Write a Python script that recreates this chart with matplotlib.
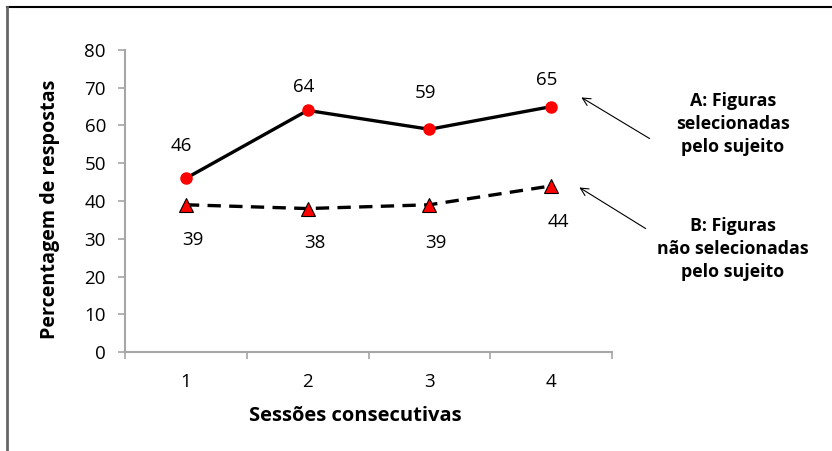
import matplotlib
matplotlib.use("Agg")
import matplotlib.pyplot as plt
from matplotlib.lines import Line2D

sessions = [1, 2, 3, 4]
selected = [46, 64, 59, 65]
not_selected = [39, 38, 39, 44]
y_ticks = [0, 10, 20, 30, 40, 50, 60, 70, 80]

# hand-placed label offsets (points) relative to each marker
selected_label_dy = [23, 17, 26, 19]
not_selected_label_dy = [-25.5, -25, -27.5, -26]

plt.rcParams['font.family'] = ['Open Sans', 'DejaVu Sans']

W, H = 832, 451
fig = plt.figure(figsize=(W / 100, H / 100), dpi=100)
ax = fig.add_axes([125 / W, 1 - 352 / H, (612 - 125) / W, (352 - 50) / H])

ax.plot(sessions, selected, color='black', lw=2.4, marker='o', ms=8,
        mfc='#FF0000', mec='#FF0000', zorder=3)
ax.plot(sessions, not_selected, color='black', lw=2.4, ls=(0, (4, 2.5)),
        marker='^', ms=9.5, mfc='#FF0000', mec='black', mew=0.8, zorder=3)

for x, v, dy in zip(sessions, selected, selected_label_dy):
    ax.annotate(str(v), (x, v), xytext=(-3, dy), textcoords='offset points',
                ha='center', va='center', fontsize=13.5)
for x, v, dy in zip(sessions, not_selected, not_selected_label_dy):
    ax.annotate(str(v), (x, v), xytext=(5, dy), textcoords='offset points',
                ha='center', va='center', fontsize=13.5)

ax.set_xlim(0.5, 4.5)
ax.set_ylim(0, 80)
ax.set_yticks(y_ticks)
ax.set_xticks(sessions)
ax.set_xticks([0.5, 1.5, 2.5, 3.5, 4.5], minor=True)
ax.tick_params(axis='x', which='major', length=0, pad=15, labelsize=13.5)
ax.tick_params(axis='x', which='minor', length=5, color='#A6A6A6', width=1.2)
ax.tick_params(axis='y', length=5, color='#A6A6A6', width=1.2, labelsize=13.5, pad=8.7)

for s in ['top', 'right']:
    ax.spines[s].set_visible(False)
for s in ['left', 'bottom']:
    ax.spines[s].set_color('#A6A6A6')
    ax.spines[s].set_linewidth(1.5)

# axis titles
fig.text(355 / W, 1 - 416 / H, 'Sessões consecutivas', ha='center', va='center',
         fontsize=14.5, fontweight='bold')
fig.text(50 / W, 1 - 209 / H, 'Percentagem de respostas', ha='center', va='center',
         rotation=90, fontsize=14.2, fontweight='bold')

# callout labels with arrows
fig.text(733 / W, 1 - 124 / H, 'A: Figuras\nselecionadas\npelo sujeito',
         ha='center', va='center', fontsize=12.8, fontweight='bold', linespacing=1.38)
fig.text(733 / W, 1 - 249 / H, 'B: Figuras\nnão selecionadas\npelo sujeito',
         ha='center', va='center', fontsize=12.8, fontweight='bold', linespacing=1.38)

ax.annotate('', xy=(579 / W, 1 - 96 / H), xycoords='figure fraction',
            xytext=(652 / W, 1 - 140 / H), textcoords='figure fraction',
            arrowprops=dict(arrowstyle='->', color='black', lw=0.8,
                            mutation_scale=14))
ax.annotate('', xy=(577 / W, 1 - 186 / H), xycoords='figure fraction',
            xytext=(648 / W, 1 - 230 / H), textcoords='figure fraction',
            arrowprops=dict(arrowstyle='->', color='black', lw=0.8,
                            mutation_scale=14))

# outer frame edges
fig.add_artist(Line2D([7 / W, 831 / W], [1 - 7 / H, 1 - 7 / H],
                      transform=fig.transFigure, color='black', lw=1.5))
fig.add_artist(Line2D([7 / W, 7 / W], [0, 1 - 7 / H],
                      transform=fig.transFigure, color='#666666', lw=2))

fig.savefig('out.png', dpi=100)
